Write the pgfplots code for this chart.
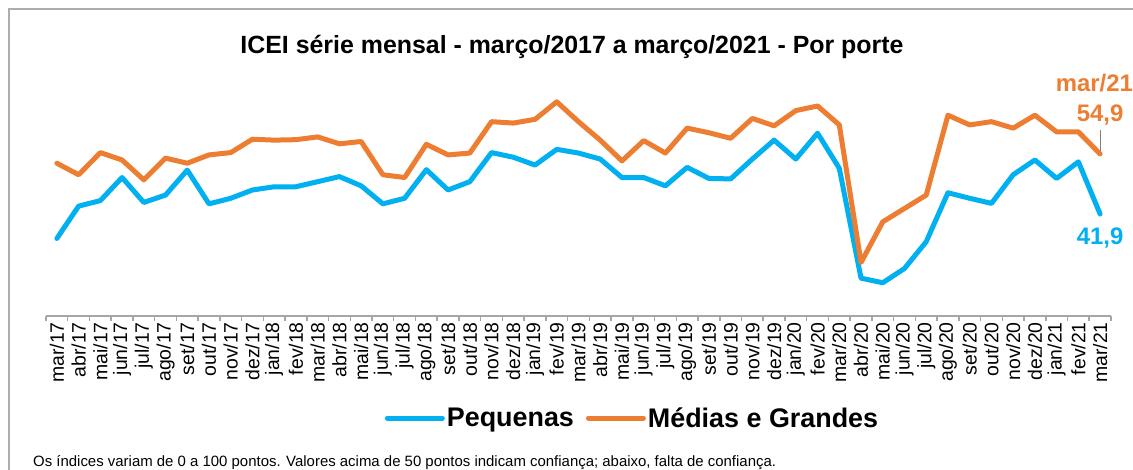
\documentclass[border=0pt]{standalone}
\usepackage{pgfplots}
\pgfplotsset{compat=1.18}
\usepackage{pgfplotstable}
\usepackage{fontspec}
\setmainfont{Liberation Sans}

\definecolor{azul}{HTML}{00B0F0}
\definecolor{laranja}{HTML}{ED7D31}
\definecolor{moldura}{HTML}{ADADAD}
\definecolor{eixo}{HTML}{A6A6A6}

% m = mes (0 = mar/17), peq = Pequenas, med = Medias e Grandes
\pgfplotstableread{
m  peq   med
0  36.6  52.9
1  43.6  50.4
2  44.8  55.2
3  49.8  53.6
4  44.4  49.3
5  46.0  54.0
6  51.4  52.9
7  44.1  54.7
8  45.3  55.2
9  47.1  58.1
10 47.8  57.9
11 47.8  58.0
12 48.9  58.6
13 50.0  57.1
14 48.0  57.6
15 44.1  50.4
16 45.3  49.8
17 51.5  57.0
18 47.1  54.7
19 48.9  55.1
20 55.2  61.9
21 54.2  61.6
22 52.5  62.4
23 55.9  66.2
24 55.1  61.9
25 53.8  57.9
26 49.8  53.4
27 49.8  57.8
28 48.0  55.1
29 52.0  60.5
30 49.6  59.5
31 49.5  58.3
32 53.8  62.6
33 57.9  61.0
34 53.8  64.3
35 59.4  65.3
36 51.8  61.2
37 28.0  31.4
38 27.0  40.2
39 30.1  43.1
40 35.9  46.0
41 46.5  63.3
42 45.3  61.2
43 44.2  61.9
44 50.4  60.5
45 53.6  63.3
46 49.6  59.7
47 53.2  59.7
48 41.9  54.9
}\dados

\begin{document}
\begin{tikzpicture}
\useasboundingbox (0bp,0bp) rectangle (1133bp,470bp);
\draw[moldura, line width=1.5bp] (9bp,-2bp) -- (9bp,461bp) -- (1140bp,461bp);
\node[anchor=base, inner sep=0pt, font=\fontsize{25}{30}\selectfont\bfseries]
  at (572bp,416bp) {ICEI série mensal - março/2017 a março/2021 - Por porte};

\begin{axis}[
  at={(46bp,154bp)}, anchor=south west,
  scale only axis, width=1065bp, height=230.8bp,
  xmin=-0.5, xmax=48.5, ymin=19.8, ymax=69.8,
  clip=false,
  axis y line=none,
  axis x line*=bottom,
  x axis line style={eixo, line width=2bp},
  xtick={0,...,48},
  xticklabels={mar/17,abr/17,mai/17,jun/17,jul/17,ago/17,set/17,out/17,nov/17,dez/17,
    jan/18,fev/18,mar/18,abr/18,mai/18,jun/18,jul/18,ago/18,set/18,out/18,nov/18,dez/18,
    jan/19,fev/19,mar/19,abr/19,mai/19,jun/19,jul/19,ago/19,set/19,out/19,nov/19,dez/19,
    jan/20,fev/20,mar/20,abr/20,mai/20,jun/20,jul/20,ago/20,set/20,out/20,nov/20,dez/20,
    jan/21,fev/21,mar/21},
  major tick length=0pt,
  x tick label style={rotate=90, anchor=east, inner sep=0pt, xshift=-6bp,
    font=\fontsize{19.5}{19.5}\selectfont},
  extra x ticks={-0.5,0.5,...,48.5},
  extra x tick labels={},
  extra x tick style={major tick length=5bp, tick align=outside,
    tick style={eixo, line width=1.5bp}},
  legend columns=-1,
  legend style={at={(0.318,-0.442)}, anchor=west, draw=none, fill=none,
    inner sep=0pt, nodes={inner sep=2bp},
    font=\fontsize{27}{27}\selectfont\bfseries,
    /tikz/every even column/.append style={column sep=10bp}},
  legend image code/.code={\draw[#1] (0bp,0bp) -- (55bp,0bp);},
]
\addplot[azul, line width=5bp, line join=round, line cap=round] table[x=m, y=peq] {\dados};
\addlegendentry{Pequenas}
\addplot[laranja, line width=5bp, line join=round, line cap=round] table[x=m, y=med] {\dados};
\addlegendentry{Médias e Grandes}

\draw[gray, line width=1bp] ([yshift=24bp]axis cs:48,54.9) -- ([yshift=3bp]axis cs:48,54.9);
\node[anchor=base, inner sep=0pt, text=laranja, font=\fontsize{24}{24}\selectfont\bfseries]
  at ([yshift=32bp]axis cs:48,54.9) {54,9};
\node[anchor=base east, inner sep=0pt, text=laranja, font=\fontsize{24}{24}\selectfont\bfseries]
  at ([xshift=33bp, yshift=62bp]axis cs:48,54.9) {mar/21};
\node[anchor=base, inner sep=0pt, text=azul, font=\fontsize{24}{24}\selectfont\bfseries]
  at ([yshift=-31bp]axis cs:48,41.9) {41,9};
\end{axis}

\node[anchor=base west, inner sep=0pt, font=\fontsize{15}{15}\selectfont]
  at (33bp,4bp) {Os índices variam de 0 a 100 pontos. Valores acima de 50 pontos indicam confiança; abaixo, falta de confiança.};
\end{tikzpicture}
\end{document}
